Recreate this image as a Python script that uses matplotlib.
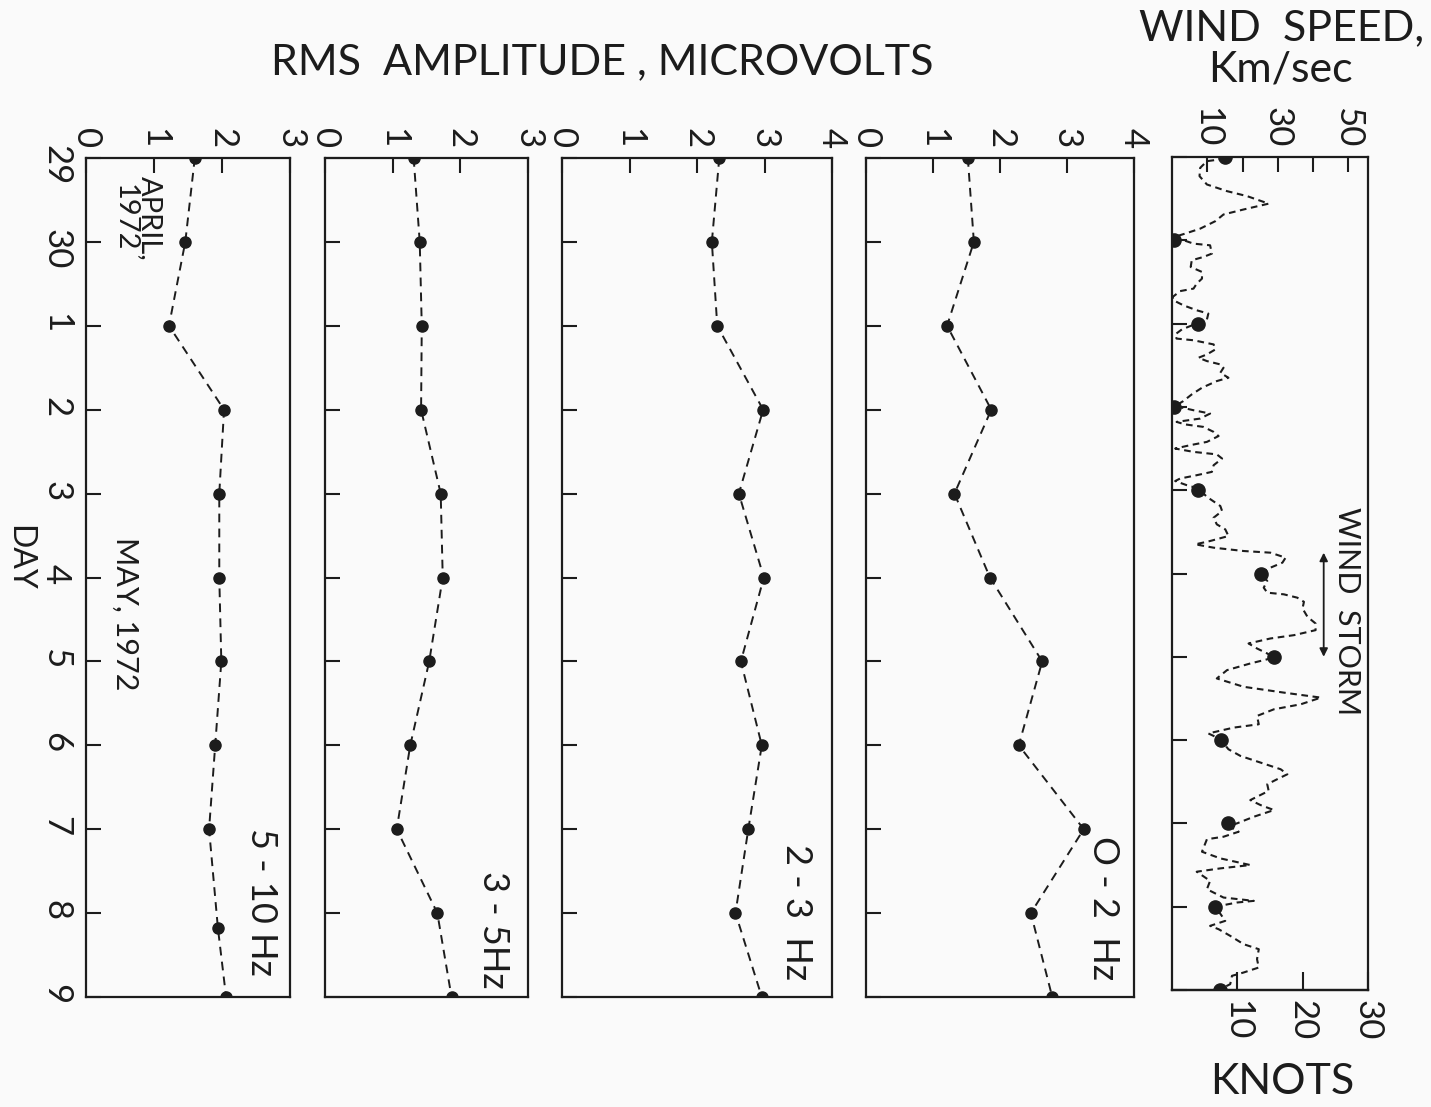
import matplotlib
matplotlib.use("Agg")
import matplotlib.pyplot as plt

# day axis: Apr 29 .. May 9, 1972 (index 0..10)
days = list(range(11))
day_labels = ['29', '30', '1', '2', '3', '4', '5', '6', '7', '8', '9']

# RMS amplitude, microvolts, per frequency band
amp_5_10 = [1.60, 1.46, 1.22, 2.03, 1.96, 1.96, 1.99, 1.90, 1.81, 1.94, 2.06]
days_5_10 = [0, 1, 2, 3, 4, 5, 6, 7, 8, 9.18, 10]
amp_3_5 = [1.31, 1.40, 1.43, 1.42, 1.71, 1.74, 1.54, 1.26, 1.06, 1.66, 1.87]
amp_2_3 = [2.33, 2.22, 2.30, 2.98, 2.62, 2.99, 2.65, 2.96, 2.76, 2.57, 2.96]
amp_0_2 = [1.52, 1.61, 1.21, 1.87, 1.32, 1.85, 2.63, 2.28, 3.25, 2.46, 2.78]

# wind speed (km/hr) at the daily sample times
wind_daily = [15.1, 0.5, 7.5, 0.5, 7.5, 25.1, 28.9, 13.9, 16.0, 12.3, 13.7]

# continuous wind record: time in days since Apr 29, speed in km/hr
wind_t = [0.02, 0.05, 0.13, 0.23, 0.33, 0.41, 0.47, 0.56, 0.63, 0.69, 0.77, 0.86,
          0.92, 0.96, 1.04, 1.06, 1.16, 1.20, 1.24, 1.32, 1.38, 1.46, 1.52, 1.58,
          1.61, 1.68, 1.72, 1.78, 1.84, 1.88, 1.95, 1.99, 2.07, 2.13, 2.18, 2.20,
          2.25, 2.31, 2.37, 2.41, 2.45, 2.49, 2.53, 2.59, 2.65, 2.69, 2.77, 2.85,
          2.93, 2.99, 3.04, 3.08, 3.14, 3.18, 3.21, 3.24, 3.30, 3.35, 3.42, 3.46,
          3.50, 3.54, 3.57, 3.62, 3.70, 3.78, 3.82, 3.86, 3.89, 3.94, 3.98, 4.08,
          4.19, 4.25, 4.33, 4.41, 4.47, 4.55, 4.61, 4.65, 4.69, 4.73, 4.75, 4.81,
          4.87, 4.93, 5.00, 5.09, 5.17, 5.23, 5.25, 5.29, 5.34, 5.42, 5.52, 5.60,
          5.68, 5.74, 5.78, 5.84, 5.90, 5.96, 6.01, 6.08, 6.16, 6.26, 6.36, 6.43,
          6.49, 6.57, 6.63, 6.71, 6.81, 6.85, 6.92, 6.95, 7.00, 7.11, 7.19, 7.27,
          7.35, 7.41, 7.47, 7.53, 7.61, 7.72, 7.78, 7.84, 7.92, 8.00, 8.03, 8.10,
          8.16, 8.19, 8.34, 8.42, 8.50, 8.54, 8.58, 8.69, 8.79, 8.89, 8.93, 8.95,
          9.00, 9.17, 9.23, 9.27, 9.35, 9.45, 9.51, 9.63, 9.73, 9.79, 9.83, 9.93,
          9.99]
wind_kmh = [15.1, 9.9, 8.0, 7.8, 9.9, 15.6, 21.3, 27.4, 20.3, 14.6, 12.3, 8.0,
            3.7, 0.6, 6.1, 10.8, 11.3, 8.9, 5.6, 5.3, 8.5, 8.5, 7.0, 6.1,
            2.3, 0.2, 0.4, 3.2, 7.0, 10.3, 9.9, 7.5, 2.8, 0.9, 1.3, 6.1,
            11.8, 12.3, 9.9, 7.5, 9.9, 13.7, 14.6, 13.7, 16.0, 12.7, 8.5, 5.6,
            3.2, 0.9, 6.1, 10.8, 8.0, 1.3, 3.7, 8.9, 11.8, 13.2, 9.9, 5.1,
            0.9, 6.1, 12.7, 14.2, 11.8, 11.3, 7.0, 2.3, 0.9, 4.2, 7.5, 9.9,
            13.7, 14.2, 11.8, 12.7, 15.1, 16.0, 10.8, 6.6, 11.8, 20.3, 27.9, 32.2,
            31.3, 27.9, 25.1, 27.0, 26.0, 27.0, 31.7, 35.5, 37.4, 37.0, 38.4, 40.7,
            40.7, 34.6, 27.9, 21.7, 24.1, 27.0, 28.9, 22.2, 15.6, 12.7, 20.3, 31.7,
            42.2, 36.5, 28.9, 24.1, 24.6, 17.5, 10.3, 11.8, 13.9, 16.0, 19.4, 25.1,
            30.8, 32.7, 29.8, 27.0, 27.4, 22.2, 25.1, 28.9, 23.2, 18.4, 16.0, 18.9,
            14.6, 9.9, 8.5, 13.7, 22.2, 13.7, 7.0, 10.8, 9.9, 14.6, 23.2, 18.4,
            12.3, 15.1, 10.8, 13.2, 16.5, 20.3, 24.6, 24.1, 24.6, 20.3, 17.0, 16.5,
            13.7]

KMH_PER_KNOT = 1.852
INK = '#1c1c1c'
W, H = 1431, 1107

plt.rcParams['font.family'] = ['Lato', 'DejaVu Sans']

fig = plt.figure(figsize=(W / 100, H / 100), dpi=100, facecolor='#fafafa')


def box(x0, y0, x1, y1):
    # pixel box -> figure fraction rectangle
    return [x0 / W, 1 - y1 / H, (x1 - x0) / W, (y1 - y0) / H]


def style(ax, xmax, show_days=False):
    ax.set_facecolor('none')
    ax.set_ylim(10, 0)
    ax.set_xlim(0, xmax)
    for s in ax.spines.values():
        s.set_linewidth(1.6)
        s.set_color(INK)
    ax.set_yticks(days)
    ax.set_yticklabels(day_labels if show_days else [])
    ax.tick_params(axis='y', direction='in', length=11, width=1.5, colors=INK,
                   left=True, right=False, labelleft=show_days,
                   labelrotation=-90, labelsize=25, pad=10)
    ax.xaxis.tick_top()
    ax.tick_params(axis='x', direction='in', length=11, width=1.5, colors=INK,
                   top=True, bottom=False, labeltop=True, labelbottom=False,
                   labelrotation=-90, labelsize=25, pad=7)


def band(ax, x, y, xmax, label, lx, ly):
    ax.plot(x, y, color=INK, lw=1.4, ls=(0, (4.5, 3.2)), marker='o', ms=8,
            mfc=INK, mec=INK)
    ax.set_xticks(range(xmax + 1))
    ax.text(lx, ly, label, transform=ax.transAxes, rotation=-90,
            ha='center', va='bottom', fontsize=26, color=INK)


ax1 = fig.add_axes(box(86, 158, 290, 997))
style(ax1, 3, show_days=True)
band(ax1, amp_5_10, days_5_10, 3, '5 - 10 Hz', 0.86, 0.025)
ax1.text(0.25, 0.979, 'APRIL,\n1972', transform=ax1.transAxes, rotation=-90,
         ha='center', va='top', fontsize=21, color=INK, linespacing=0.95)
ax1.text(0.19, 0.548, 'MAY, 1972', transform=ax1.transAxes, rotation=-90,
         ha='center', va='top', fontsize=22, color=INK)

ax2 = fig.add_axes(box(325, 158, 528, 997))
style(ax2, 3)
band(ax2, amp_3_5, days, 3, '3 - 5Hz', 0.83, 0.01)

ax3 = fig.add_axes(box(562, 158, 832, 997))
style(ax3, 4)
band(ax3, amp_2_3, days, 4, '2 - 3  Hz', 0.87, 0.02)

ax4 = fig.add_axes(box(866, 158, 1134, 997))
style(ax4, 4)
band(ax4, amp_0_2, days, 4, 'O - 2  Hz', 0.885, 0.02)

# wind speed panel, km/hr on top, knots below
ax5 = fig.add_axes(box(1172, 157, 1368, 990))
style(ax5, 30 * KMH_PER_KNOT)
ax5.set_xticks([10, 20, 30, 40, 50], labels=['10', '', '30', '', '50'])
ax5.plot(wind_kmh, wind_t, color=INK, lw=1.5, ls=(0, (3.2, 2.2)))
ax5.plot(wind_daily, days, ls='none', marker='o', ms=9.5, mfc=INK, mec=INK)

knots = ax5.secondary_xaxis('bottom', functions=(lambda v: v / KMH_PER_KNOT,
                                                 lambda v: v * KMH_PER_KNOT))
knots.set_xticks([10, 20, 30])
knots.spines['bottom'].set_linewidth(1.6)
knots.spines['bottom'].set_color(INK)
knots.tick_params(direction='in', length=13, width=1.5, colors=INK,
                  labelrotation=-90, labelsize=25, pad=7)

ax5.annotate('', xy=(43, 4.75), xytext=(43, 6.0),
             arrowprops=dict(arrowstyle='<|-|>', color=INK, lw=1.3,
                             mutation_scale=12, shrinkA=0, shrinkB=0))
ax5.text(49.5, 5.45, 'WIND  STORM', rotation=-90, ha='center', va='center',
         fontsize=22, color=INK)

fig.text(602 / W, 1 - 62 / H, 'RMS  AMPLITUDE , MICROVOLTS', ha='center',
         va='center', fontsize=31, color=INK)
fig.text(1282 / W, 1 - 28 / H, 'WIND  SPEED,', ha='center', va='center',
         fontsize=31, color=INK)
fig.text(1280 / W, 1 - 70 / H, 'Km/sec', ha='center', va='center',
         fontsize=31, color=INK)
fig.text(1282 / W, 1 - 1082 / H, 'KNOTS', ha='center', va='center',
         fontsize=31, color=INK)
fig.text(19 / W, 1 - 558 / H, 'DAY', rotation=-90, ha='center', va='center',
         fontsize=23, color=INK)

fig.savefig('out.png', dpi=100, facecolor=fig.get_facecolor())
